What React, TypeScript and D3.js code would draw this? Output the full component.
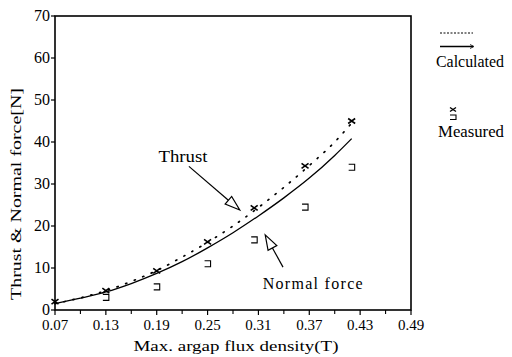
import React from "react";
import * as d3 from "d3";

const xTicks = [0.07, 0.13, 0.19, 0.25, 0.31, 0.37, 0.43, 0.49];
const xTickLabels = ["0.07", "0.13", "0.19", "0.25", "0.31", "0.37", "0.43", "0.49"];
const xMinorTicks = [0.1, 0.16, 0.22, 0.28, 0.34, 0.4, 0.46];
const yTicks = [0, 10, 20, 30, 40, 50, 60, 70];

// Measured thrust (x markers)
const thrustMeasX = [0.07, 0.13, 0.19, 0.25, 0.305, 0.365, 0.42];
const thrustMeasY = [2, 4.6, 9.3, 16.2, 24.3, 34.3, 45];
// Measured normal force (bracket markers)
const normalMeasX = [0.13, 0.19, 0.25, 0.305, 0.365, 0.42];
const normalMeasY = [3, 5.5, 11, 16.7, 24.5, 34];

// Calculated thrust (dotted)
const thrustCalcX = [0.07, 0.1, 0.13, 0.16, 0.19, 0.22, 0.25, 0.28, 0.31, 0.34, 0.37, 0.4, 0.42];
const thrustCalcY = [1.5, 2.9, 4.6, 6.8, 9.4, 12.6, 16.1, 20.0, 24.4, 29.2, 34.4, 40.0, 44.5];
// Calculated normal force (solid)
const normalCalcX = [0.07, 0.1, 0.13, 0.16, 0.19, 0.22, 0.25, 0.28, 0.31, 0.34, 0.37, 0.4, 0.42];
const normalCalcY = [1.5, 2.8, 4.3, 6.3, 8.7, 11.5, 14.8, 18.4, 22.4, 26.7, 31.4, 36.8, 40.8];

const W = 512;
const H = 357;
const FF = "Liberation Serif";
const TS: React.CSSProperties = { fontFamily: '"Liberation Serif"' };

function ArrowAnno({ x1, y1, x2, y2 }: { x1: number; y1: number; x2: number; y2: number }) {
  const dx = x2 - x1;
  const dy = y2 - y1;
  const len = Math.sqrt(dx * dx + dy * dy);
  const ux = dx / len;
  const uy = dy / len;
  const hl = 15;
  const hw = 5;
  const bx = x2 - ux * hl;
  const by = y2 - uy * hl;
  const px = -uy;
  const py = ux;
  const pts = `${x2},${y2} ${bx + px * hw},${by + py * hw} ${bx - px * hw},${by - py * hw}`;
  return (
    <g>
      <line x1={x1} y1={y1} x2={bx} y2={by} stroke="#000" strokeWidth={1.2} />
      <polygon points={pts} fill="#fff" stroke="#000" strokeWidth={1.2} />
    </g>
  );
}

export default function App() {
  const x = d3.scaleLinear().domain([0.07, 0.49]).range([55, 411]);
  const y = d3.scaleLinear().domain([0, 70]).range([310, 16]);

  const line = d3
    .line<[number, number]>()
    .x((d) => x(d[0]))
    .y((d) => y(d[1]))
    .curve(d3.curveMonotoneX);

  const thrustPath = line(thrustCalcX.map((v, i) => [v, thrustCalcY[i]]) as [number, number][]) || "";
  const normalPath = line(normalCalcX.map((v, i) => [v, normalCalcY[i]]) as [number, number][]) || "";

  return (
    <svg width={W} height={H} style={{ position: "absolute", left: 0, top: 0, background: "#fff" }}>
      <rect x={0} y={0} width={W} height={H} fill="#fff" />
      {/* frame */}
      <rect x={x(0.07)} y={y(70)} width={x(0.49) - x(0.07)} height={y(0) - y(70)} fill="none" stroke="#000" strokeWidth={1.6} />

      {/* x ticks */}
      {xTicks.map((t, i) => (
        <g key={"xt" + i}>
          <line x1={x(t)} x2={x(t)} y1={y(0)} y2={y(0) + 5} stroke="#000" strokeWidth={1.2} />
          <text x={x(t)} y={y(0) + 20} textAnchor="middle" fontSize={15} fill="#000" fontFamily={FF} style={TS}>
            {xTickLabels[i]}
          </text>
        </g>
      ))}
      {xMinorTicks.map((t, i) => (
        <line key={"xm" + i} x1={x(t)} x2={x(t)} y1={y(0)} y2={y(0) + 4} stroke="#000" strokeWidth={1.1} />
      ))}
      {/* y ticks */}
      {yTicks.map((t, i) => (
        <g key={"yt" + i}>
          <line x1={x(0.07) - 4} x2={x(0.07)} y1={y(t)} y2={y(t)} stroke="#000" strokeWidth={1.2} />
          <text x={x(0.07) - 5} y={y(t) + 5} textAnchor="end" fontSize={16} fill="#000" fontFamily={FF} style={TS}>
            {t}
          </text>
        </g>
      ))}

      {/* axis titles */}
      <text x={236} y={351} textAnchor="middle" fontSize={15.5} fill="#000" fontFamily={FF} style={TS} textLength={205} lengthAdjust="spacingAndGlyphs">
        Max. argap flux density(T)
      </text>
      <text
        transform={`translate(21,${194}) rotate(-90)`}
        textAnchor="middle"
        fontSize={15.5}
        fill="#000"
        fontFamily={FF}
        style={TS}
        textLength={212}
        lengthAdjust="spacingAndGlyphs"
      >
        Thrust &amp; Normal force[N]
      </text>

      {/* calculated curves */}
      <path d={thrustPath} fill="none" stroke="#000" strokeWidth={1.7} strokeDasharray="1.2,8" strokeLinecap="round" />
      <path d={normalPath} fill="none" stroke="#000" strokeWidth={1.3} />

      {/* measured thrust: x markers */}
      {thrustMeasX.map((v, i) => {
        const cx = x(v);
        const cy = y(thrustMeasY[i]);
        return (
          <path
            key={"tm" + i}
            d={`M${cx - 3.5},${cy - 2.5}L${cx + 3.5},${cy + 2.5}M${cx - 3.5},${cy + 2.5}L${cx + 3.5},${cy - 2.5}`}
            stroke="#000"
            strokeWidth={1.6}
            fill="none"
          />
        );
      })}
      {/* measured normal: bracket markers */}
      {normalMeasX.map((v, i) => {
        const cx = x(v);
        const cy = y(normalMeasY[i]);
        return (
          <path
            key={"nm" + i}
            d={`M${cx - 3},${cy - 3}H${cx + 3}V${cy + 3}H${cx - 3}`}
            stroke="#000"
            strokeWidth={1.1}
            fill="none"
          />
        );
      })}

      {/* annotations */}
      <text x={x(0.221)} y={y(35.2)} textAnchor="middle" fontSize={16} fill="#000" fontFamily={FF} style={TS} textLength={49} lengthAdjust="spacingAndGlyphs">
        Thrust
      </text>
      <ArrowAnno x1={x(0.228)} y1={y(34.2)} x2={x(0.288)} y2={y(23.8)} />
      <text x={x(0.315)} y={y(5.0)} textAnchor="start" fontSize={16} fill="#000" fontFamily={FF} style={TS} textLength={100} lengthAdjust="spacing">
        Normal  force
      </text>
      <ArrowAnno x1={x(0.339)} y1={y(10.2)} x2={x(0.318)} y2={y(17.9)} />

      {/* legend */}
      <line x1={440} x2={473} y1={33} y2={33} stroke="#000" strokeWidth={1} strokeDasharray="2,1.5" />
      <line x1={440} x2={473} y1={46.5} y2={46.5} stroke="#000" strokeWidth={1.4} />
      <path d="M470,44.5L474,46.5L470,48.5" fill="none" stroke="#000" strokeWidth={0.8} />
      <text x={436} y={67} fontSize={16} fill="#000" fontFamily={FF} style={TS} textLength={68} lengthAdjust="spacingAndGlyphs">
        Calculated
      </text>
      <path d="M450,107.5L456,111.5M450,111.5L456,107.5" stroke="#000" strokeWidth={1.4} fill="none" />
      <path d="M450,115H456V119.5H450" stroke="#000" strokeWidth={1.1} fill="none" />
      <text x={438} y={137} fontSize={16} fill="#000" fontFamily={FF} style={TS} textLength={66} lengthAdjust="spacingAndGlyphs">
        Measured
      </text>
    </svg>
  );
}
